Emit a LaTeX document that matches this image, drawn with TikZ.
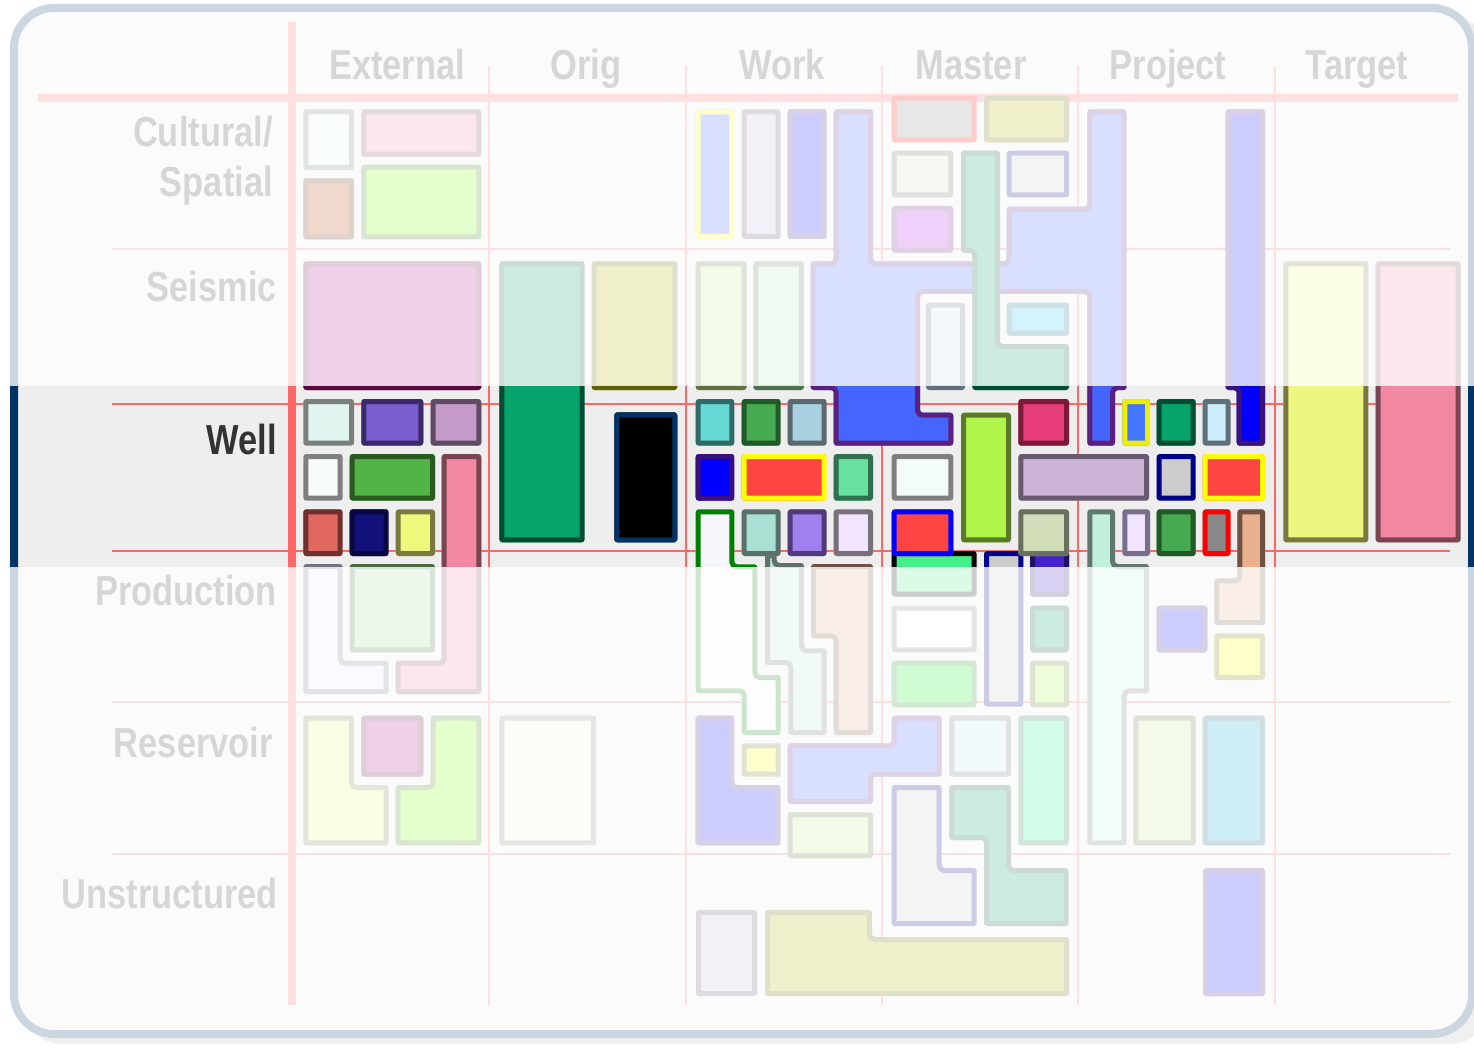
\documentclass[tikz,border=0pt]{standalone}
\usepackage{fontspec}
\newfontfamily\labfont[FakeStretch=0.82]{Liberation Sans}
\newcommand\mypoly[3]{%
  \definecolor{shF}{RGB}{#1}\definecolor{shD}{RGB}{#2}%
  \begin{scope}[rounded corners=3pt]
    \clip #3;
    \fill[shF] #3;
    \draw[shD, line width=10pt] #3;
  \end{scope}}
\newcommand\myrect[6]{\mypoly{#1}{#2}{(#3,#4) rectangle (#5,#6)}}
\begin{document}
\begin{tikzpicture}[x=1pt,y=-1pt]
\definecolor{frameC}{RGB}{0,51,102}
\definecolor{bgC}{RGB}{238,238,238}
\definecolor{gridC}{RGB}{255,102,102}
\definecolor{txtC}{RGB}{51,51,51}
\tikzset{lab/.style={inner sep=0pt, text=txtC, font=\labfont\bfseries\fontsize{42}{50}\selectfont},
  thinline/.style={gridC, line width=1.5pt},
  thickline/.style={gridC, line width=8pt}}
\useasboundingbox (0,0) rectangle (1474,1048);
\fill[white] (0,0) rectangle (1474,1048);
\fill[black!28, rounded corners=40pt] (22,16) rectangle (1490,1044);
\draw[frameC, line width=8pt, fill=bgC, rounded corners=40pt] (14,8) rectangle (1472,1034);
% grid
\foreach \gx in {489,686,882,1078,1275} \draw[thinline] (\gx,66) -- (\gx,1005);
\foreach \gy in {249,404,551,702,854} \draw[thinline] (112,\gy) -- (1450,\gy);
\draw[thickline] (292,22) -- (292,1005);
\draw[thickline] (38,98) -- (1458,98);
% headers
\node[lab, anchor=base] (hExt) at (397,80) {External};
\node[lab, anchor=base] (hOrig) at (586,80) {Orig};
\node[lab, anchor=base] (hWork) at (782,80) {Work};
\node[lab, anchor=base] (hMaster) at (971,80) {Master};
\node[lab, anchor=base] (hProject) at (1168,80) {Project};
\node[lab, anchor=base] (hTarget) at (1357,80) {Target};
% row labels
\node[lab, anchor=base east] (rCult) at (273,147) {Cultural/};
\node[lab, anchor=base east] (rSpat) at (273,197) {Spatial};
\node[lab, anchor=base east] (rSeis) at (277,302) {Seismic};
\node[lab, anchor=base east] (rWell) at (277,454) {Well};
\node[lab, anchor=base east] (rProd) at (277,605) {Production};
\node[lab, anchor=base east] (rRes) at (273,757) {Reservoir};
\node[lab, anchor=base east] (rUns) at (278,908) {Unstructured};
% Cultural External
\myrect{220,245,240}{110,120,115}{303.3}{109.3}{354}{170}
\myrect{242,136,164}{122,68,80}{361.3}{109.3}{481.3}{156.7}
\myrect{180,60,0}{90,30,0}{303.3}{178.3}{354}{239.3}
\myrect{110,255,0}{70,120,30}{361.3}{164.7}{481.3}{239.3}
% Seismic External / Orig
\myrect{180,20,140}{90,10,64}{303.3}{261.3}{481.3}{390}
\myrect{6,163,106}{0,77,51}{499.3}{261.3}{584.7}{542.3}
\myrect{180,180,0}{96,96,0}{591.7}{261.3}{677.3}{390}
\myrect{0,0,0}{0,51,102}{614.3}{412.3}{677.3}{542.3}
\myrect{230,245,220}{120,130,120}{499.3}{715.7}{596}{845.3}
% Well External
\myrect{224,244,240}{120,128,124}{303.3}{399}{354}{445.7}
\myrect{122,94,208}{58,42,106}{361.3}{399}{423.3}{445.7}
\myrect{196,154,200}{96,74,100}{430.7}{399}{481.3}{445.7}
\myrect{248,252,248}{127,127,127}{303.3}{454}{342.7}{500.7}
\myrect{82,180,70}{42,90,34}{349.7}{454}{435}{500.7}
\mypoly{242,136,164}{122,68,80}{(441.7,454)--(481.3,454)--(481.3,694)--(395.7,694)--(395.7,660.7)--(441.7,660.7)--cycle}
\myrect{224,104,96}{112,48,48}{303.3}{509.3}{342.7}{556}
\myrect{18,16,122}{8,8,63}{349.7}{509.3}{388.7}{556}
\myrect{238,248,124}{122,122,64}{395.7}{509.3}{435}{556}
% Production External
\mypoly{230,230,255}{120,112,136}{(303.3,564)--(342.7,564)--(342.7,660.7)--(388.7,660.7)--(388.7,694)--(303.3,694)--cycle}
\myrect{165,215,160}{74,106,64}{349.7}{564}{435}{652.3}
% Reservoir External
\mypoly{236,246,128}{120,120,64}{(303.3,715.7)--(354,715.7)--(354,785)--(388.7,785)--(388.7,845.3)--(303.3,845.3)--cycle}
\myrect{180,20,140}{90,10,64}{361.3}{715.7}{423.3}{776.7}
\mypoly{110,255,0}{70,120,30}{(430.7,715.7)--(481.3,715.7)--(481.3,845.3)--(395.7,845.3)--(395.7,785)--(430.7,785)--cycle}
% Work cultural
\myrect{68,102,255}{255,255,0}{695.7}{109.3}{734.3}{239}
\myrect{200,180,220}{90,80,100}{741.7}{109.3}{780.7}{239}
\myrect{0,0,255}{60,20,120}{787.7}{109.3}{826.7}{239}
\mypoly{68,102,255}{90,32,128}{(833.7,109.3)--(873,109.3)--(873,261.3)--(1006.7,261.3)--(1006.7,206.7)--(1087.3,206.7)--(1087.3,109.3)--(1126.7,109.3)--(1126.7,390)--(1115,390)--(1115,445.7)--(1087.3,445.7)--(1087.3,294)--(920,294)--(920,412.7)--(953.3,412.7)--(953.3,445.7)--(833.7,445.7)--(833.7,390)--(810.7,390)--(810.7,261.3)--(833.7,261.3)--cycle}
% Seismic Work
\myrect{200,230,140}{96,112,64}{695.7}{261.3}{746.7}{390}
\myrect{180,230,180}{80,112,80}{753.3}{261.3}{804}{390}
% Master cultural / seismic
\myrect{136,136,136}{255,0,0}{891.7}{95.7}{976.7}{142.3}
\myrect{180,180,0}{96,96,0}{984}{95.7}{1069}{142.3}
\myrect{225,215,190}{100,100,90}{891.7}{150.7}{953.3}{197.3}
\myrect{170,20,230}{90,30,120}{891.7}{206}{953.3}{252.7}
\myrect{204,204,204}{0,0,136}{1006.7}{150.7}{1069}{197.3}
\mypoly{6,163,106}{0,77,51}{(961,150.7)--(1000,150.7)--(1000,344)--(1069,344)--(1069,390)--(972.3,390)--(972.3,252.7)--(961,252.7)--cycle}
\myrect{200,230,240}{96,112,128}{926}{302.7}{965}{390}
\myrect{30,200,230}{20,100,120}{1006.7}{302.7}{1069}{335.7}
% Project right bar
\mypoly{0,0,255}{60,20,120}{(1225.7,109.3)--(1265,109.3)--(1265,445.7)--(1236.7,445.7)--(1236.7,390)--(1225.7,390)--cycle}
% Target
\myrect{236,246,128}{120,120,64}{1283.3}{261.3}{1368.3}{542.3}
\myrect{242,136,164}{122,68,80}{1375.7}{261.3}{1460.7}{542.3}
% Well Work / Master row 1-2
\myrect{102,217,212}{48,106,102}{695.7}{399}{734.3}{445.7}
\myrect{72,170,80}{32,90,40}{741.7}{399}{780.7}{445.7}
\myrect{168,208,224}{90,106,112}{787.7}{399}{826.7}{445.7}
\myrect{176,245,74}{90,122,42}{961}{412.7}{1011}{542.3}
\myrect{230,60,122}{122,26,58}{1018.3}{399}{1069}{445.7}
\myrect{0,0,255}{58,16,128}{695.7}{454}{734.3}{500.7}
\myrect{255,68,68}{255,255,0}{741.7}{454}{826.7}{500.7}
\myrect{104,224,160}{48,112,80}{833.7}{454}{873}{500.7}
\myrect{244,252,248}{127,127,127}{891.7}{454}{953.3}{500.7}
\myrect{204,180,216}{106,90,112}{1018.3}{454}{1149}{500.7}
% Production Work / Master
\mypoly{190,230,215}{96,112,108}{(765,553)--(776.7,553)--(776.7,563)--(804,563)--(804,648.3)--(826.7,648.3)--(826.7,735)--(788.3,735)--(788.3,665)--(765,665)--cycle}
\mypoly{245,245,252}{0,128,0}{(695.7,509.3)--(734.3,509.3)--(734.3,564.3)--(757.3,564.3)--(757.3,675)--(780.7,675)--(780.7,735)--(741.7,735)--(741.7,693.3)--(695.7,693.3)--cycle}
\mypoly{232,176,140}{112,80,64}{(811,564)--(873,564)--(873,735)--(833.7,735)--(833.7,638.3)--(811,638.3)--cycle}
\myrect{68,238,136}{0,0,0}{891.7}{551}{976.7}{596.7}
\myrect{204,204,204}{0,0,136}{984}{551}{1023.3}{706.7}
\myrect{68,34,204}{32,16,96}{1030}{551}{1069}{596.7}
\myrect{255,255,255}{120,120,120}{891.7}{605.7}{976.7}{652.3}
\myrect{6,163,106}{0,77,51}{1030}{605.7}{1069}{652.3}
\myrect{20,240,40}{40,140,40}{891.7}{660.7}{976.7}{707.3}
\myrect{176,245,74}{90,122,42}{1030}{660.7}{1069}{707.3}
% Well row 3
\myrect{168,224,212}{90,112,106}{741.7}{509.3}{780.7}{556}
\myrect{160,128,238}{80,58,122}{787.7}{509.3}{826.7}{556}
\myrect{240,228,255}{120,112,120}{833.7}{509.3}{873}{556}
\myrect{255,68,68}{0,0,255}{891.7}{509.3}{953.3}{556}
\myrect{208,221,184}{106,112,96}{1018.3}{509.3}{1069}{556}
% Project well
\myrect{68,119,255}{238,238,0}{1122.3}{399}{1150}{445.7}
\myrect{6,163,106}{0,77,51}{1156.7}{399}{1195.7}{445.7}
\myrect{204,236,252}{96,112,120}{1202.7}{399}{1230.7}{445.7}
\myrect{204,204,204}{0,0,136}{1156.7}{454}{1195.7}{500.7}
\myrect{255,68,68}{255,255,0}{1202.7}{454}{1265}{500.7}
\mypoly{192,240,220}{96,120,112}{(1087.3,509.3)--(1115,509.3)--(1115,564)--(1149,564)--(1149,693.3)--(1126.7,693.3)--(1126.7,845.3)--(1087.3,845.3)--cycle}
\myrect{240,228,255}{120,112,136}{1122.3}{509.3}{1150}{556}
\myrect{72,170,80}{32,90,40}{1156.7}{509.3}{1195.7}{556}
\myrect{136,136,136}{255,0,0}{1202.7}{509.3}{1230.7}{556}
\mypoly{232,176,140}{112,80,64}{(1237.3,509.3)--(1265,509.3)--(1265,625)--(1214.3,625)--(1214.3,578.3)--(1237.3,578.3)--cycle}
\myrect{0,0,255}{60,20,120}{1156.7}{605.7}{1207.3}{652.3}
\myrect{255,255,0}{120,120,0}{1214.3}{633.3}{1265}{680}
% Reservoir Work / Master / Project
\mypoly{0,0,255}{60,20,120}{(695.7,715.7)--(734.3,715.7)--(734.3,785)--(780.7,785)--(780.7,845.3)--(695.7,845.3)--cycle}
\myrect{255,255,0}{110,110,30}{741.7}{743.3}{780.7}{776.7}
\mypoly{68,102,255}{90,32,128}{(787.7,743.3)--(891.7,743.3)--(891.7,715.7)--(941.7,715.7)--(941.7,776.7)--(873,776.7)--(873,804)--(787.7,804)--cycle}
\myrect{200,230,140}{96,112,64}{787.7}{812.3}{873}{858.3}
\myrect{190,230,245}{100,110,120}{949.3}{715.7}{1011}{776.7}
\myrect{20,240,140}{40,120,80}{1018.3}{715.7}{1069}{845.3}
\mypoly{204,204,204}{0,0,136}{(891.7,785)--(941.7,785)--(941.7,868)--(976.7,868)--(976.7,926)--(891.7,926)--cycle}
\mypoly{6,163,106}{0,77,51}{(949.3,785)--(1011,785)--(1011,868)--(1068.5,868)--(1068.5,926)--(984,926)--(984,840)--(949.3,840)--cycle}
\myrect{200,230,140}{96,112,64}{1133.3}{715.7}{1195.7}{845.3}
\myrect{20,170,205}{20,90,120}{1202.7}{715.7}{1265}{845.3}
% Unstructured
\myrect{200,180,220}{90,80,100}{696}{910}{757}{996}
\mypoly{180,180,0}{96,96,0}{(765,910)--(872,910)--(872,937)--(1069,937)--(1069,996)--(765,996)--cycle}
\myrect{0,0,255}{60,20,120}{1203}{868}{1265}{996}
% fade overlay outside the Well band
\fill[white, opacity=0.8] (0,0) rectangle (1474,386);
\fill[white, opacity=0.8] (0,567) rectangle (1474,1048);
\end{tikzpicture}
\end{document}
